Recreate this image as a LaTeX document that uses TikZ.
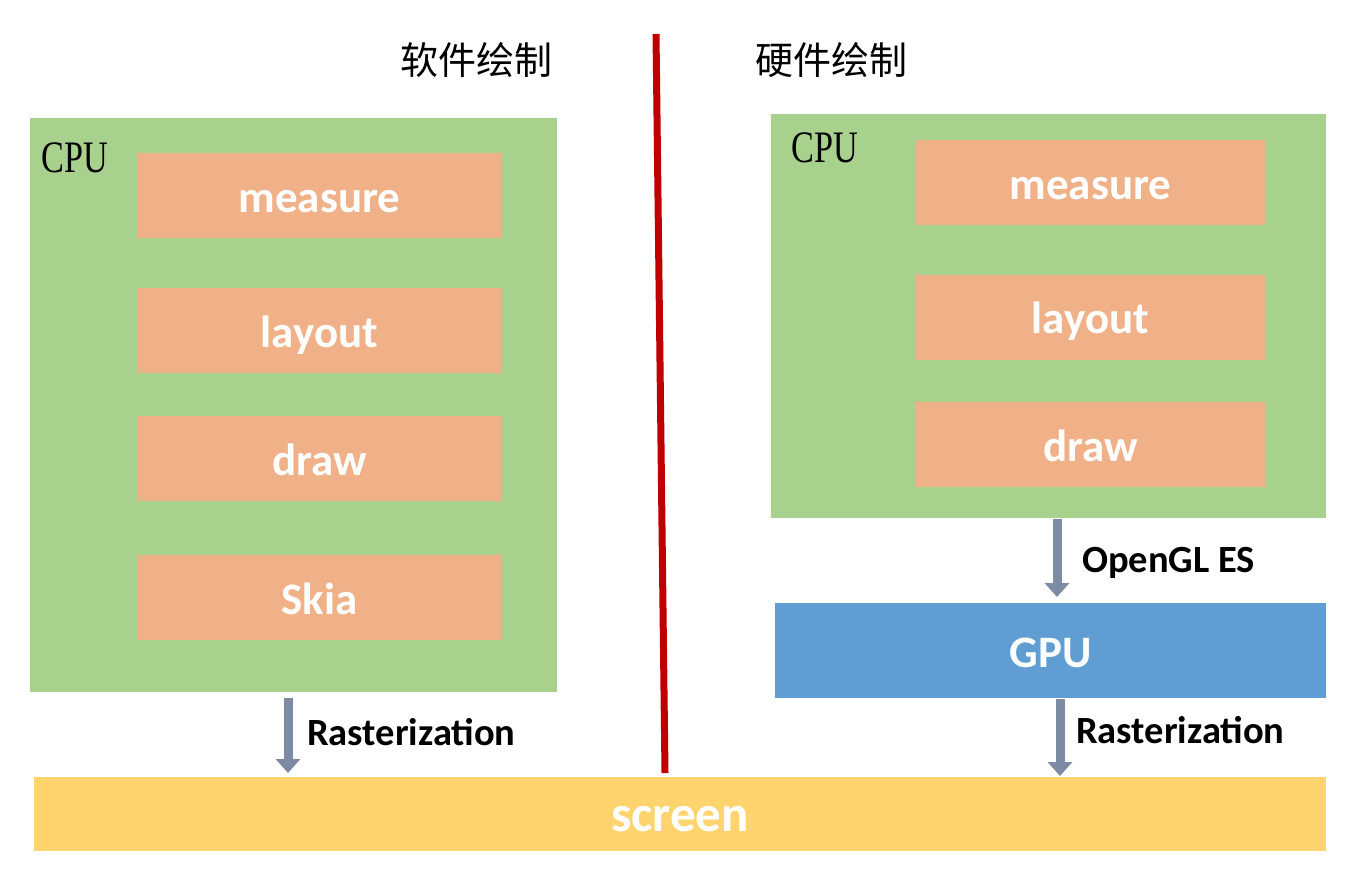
\documentclass[tikz,border=0pt]{standalone}
\usepackage{fontspec}
\setmainfont{Carlito}
\newfontfamily\serifcpu[FakeStretch=0.76]{Liberation Serif}
\newfontfamily\cjk{Noto Sans CJK SC}
\usetikzlibrary{arrows.meta}
\definecolor{cpugreen}{HTML}{A9D18E}
\definecolor{stepor}{HTML}{F0B189}
\definecolor{gpublue}{HTML}{5F9DD3}
\definecolor{scryel}{HTML}{FFD46F}
\definecolor{divred}{HTML}{C00000}
\definecolor{arrgray}{HTML}{7D8CA3}
\tikzset{
  x=1pt, y=-1pt,
  cpubox/.style={fill=cpugreen, draw=none, inner sep=0pt},
  stepbox/.style={fill=stepor, draw=none, inner sep=0pt, text=white,
    text height=39pt, text depth=6pt,
    font=\fontsize{45}{47}\selectfont\bfseries},
  cpulabel/.style={inner sep=0pt, font=\serifcpu\fontsize{45}{47}\selectfont, anchor=west},
  title/.style={inner sep=0pt, font=\cjk\fontsize{38}{40}\selectfont, anchor=west},
  flowarrow/.style={draw=arrgray, line width=9pt,
    -{Triangle[width=24pt,length=14pt]}},
  arrlabel/.style={inner sep=0pt, anchor=west, font=\fontsize{38.5}{40}\selectfont\bfseries},
}
\begin{document}
\begin{tikzpicture}
\path[use as bounding box, fill=white] (0,0) rectangle (1348,868);

% titles
\node[title] (t1) at (400,60) {软件绘制};
\node[title] (t2) at (755,60) {硬件绘制};

% divider
\coordinate (d1) at (656,34);
\coordinate (d2) at (665,773);
\draw[divred, line width=7pt] (d1) -- (d2);

% left CPU
\node[cpubox, minimum width=527pt, minimum height=574pt] (lcpu) at (293.5,405) {};
\node[cpulabel] (lcpul) at (41,158) {CPU};
\node[stepbox, minimum width=363pt, minimum height=85pt] (lm) at (319.5,195.5) {measure};
\node[stepbox, minimum width=363pt, minimum height=85pt] (ll) at (319.5,330.5) {layout};
\node[stepbox, minimum width=363pt, minimum height=85pt] (ld) at (319.5,458.5) {draw};
\node[stepbox, minimum width=363pt, minimum height=85pt] (ls) at (319.5,597.5) {Skia};

% right CPU
\node[cpubox, minimum width=555pt, minimum height=404pt] (rcpu) at (1048.5,316) {};
\node[cpulabel] (rcpul) at (791,148) {CPU};
\node[stepbox, minimum width=349pt, minimum height=85pt] (rm) at (1090.5,182.5) {measure};
\node[stepbox, minimum width=349pt, minimum height=85pt] (rl) at (1090.5,317) {layout};
\node[stepbox, minimum width=349pt, minimum height=85pt] (rd) at (1090.5,444.5) {draw};

% GPU
\node[stepbox, fill=gpublue, minimum width=551pt, minimum height=95pt] (gpu) at (1050.5,650.5) {GPU};

% screen
\node[stepbox, fill=scryel, minimum width=1292pt, minimum height=74pt,
  text height=43pt, text depth=8pt,
  font=\fontsize{51}{53}\selectfont\bfseries] (scr) at (680,814) {screen};

% arrows
\coordinate (a1s) at (288,698);
\coordinate (a1e) at (288,773);
\draw[flowarrow] (a1s) -- (a1e);
\node[arrlabel] (r1) at (307,732) {Rasterization};

\coordinate (a2s) at (1057,519);
\coordinate (a2e) at (1057,597);
\draw[flowarrow] (a2s) -- (a2e);
\node[arrlabel] (og) at (1082,563) {OpenGL ES};

\coordinate (a3s) at (1060,699);
\coordinate (a3e) at (1060,776);
\draw[flowarrow] (a3s) -- (a3e);
\node[arrlabel] (r2) at (1076,730) {Rasterization};
\end{tikzpicture}
\end{document}
